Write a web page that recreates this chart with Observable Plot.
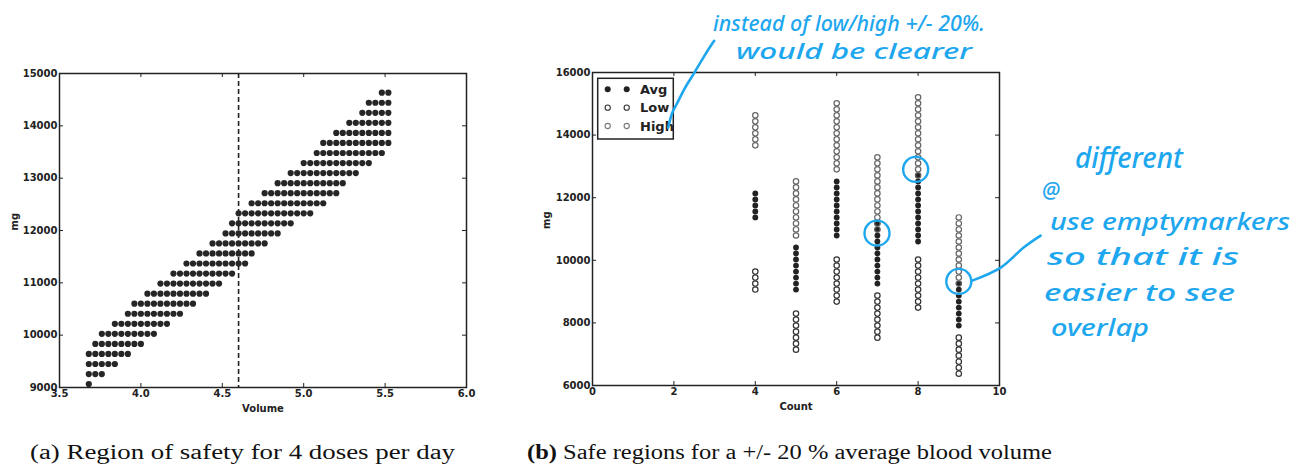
<!DOCTYPE html>
<html><head><meta charset="utf-8">
<script src="https://cdn.jsdelivr.net/npm/d3@7"></script>
<script src="https://cdn.jsdelivr.net/npm/@observablehq/plot@0.6"></script>
<style>
html,body{margin:0;padding:0;background:#fff;width:1303px;height:466px;overflow:hidden;}
#root{position:relative;width:1303px;height:466px;}
#left{position:absolute;left:0;top:0;z-index:2;}
#right{position:absolute;left:540px;top:0;z-index:2;}
#legend{position:absolute;left:0;top:0;z-index:1;}
#notes{position:absolute;left:0;top:0;z-index:3;pointer-events:none;}
</style></head>
<body><div id="root">
<svg id="legend" width="1303" height="466"></svg>
<div id="left"></div>
<div id="right"></div>
<svg id="notes" width="1303" height="466"></svg>
</div>
<script>
// ---------- Panel (a): region of safety, 4 doses per day ----------
const volumeGrid = [3.68,3.72,3.76,3.80,3.84,3.88,3.92,3.96,4.00,4.04,4.08,4.12,4.16,4.20,4.24,4.28,4.32,4.36,4.40,4.44,4.48,4.52,4.56,4.60,4.64,4.68,4.72,4.76,4.80,4.84,4.88,4.92,4.96,5.00,5.04,5.08,5.12,5.16,5.20,5.24,5.28,5.32,5.36,5.40,5.44,5.48,5.52];
const rowMg = [9065,9257,9449,9641,9833,10025,10217,10409,10601,10793,10985,11177,11369,11561,11753,11945,12137,12329,12521,12713,12905,13097,13289,13481,13673,13865,14057,14249,14441,14633];
const rowVolMin = [3.68,3.68,3.68,3.68,3.72,3.76,3.84,3.92,3.96,4.04,4.12,4.20,4.28,4.36,4.44,4.52,4.56,4.60,4.68,4.76,4.84,4.92,5.00,5.08,5.12,5.20,5.28,5.36,5.40,5.48];
const rowVolMax = [3.68,3.76,3.84,3.92,4.00,4.08,4.16,4.24,4.32,4.40,4.48,4.56,4.64,4.68,4.76,4.84,4.92,5.04,5.12,5.20,5.24,5.32,5.40,5.48,5.52,5.52,5.52,5.52,5.52,5.52];
const thresholdVolume = 4.6;
const xTicksA = [3.5,4.0,4.5,5.0,5.5,6.0];
const yTicksA = [9000,10000,11000,12000,13000,14000,15000];

// ---------- Panel (b): safe regions, +/- 20% blood volume ----------
const mgGrid = [6377,6569,6761,6953,7145,7337,7529,7721,7913,8105,8297,8489,8681,8873,9065,9257,9449,9641,9833,10025,10217,10409,10601,10793,10985,11177,11369,11561,11753,11945,12137,12329,12521,12713,12905,13097,13289,13481,13673,13865,14057,14249,14441,14633,14825,15017,15209];
const counts  = [4, 5, 6, 7, 8, 9];
const avgMin  = [11369, 9065, 10793, 9257, 10601, 7913];
const avgMax  = [12137, 10409, 12521, 11177, 12713, 9257];
const lowMin  = [9065, 7145, 8681, 7529, 8489, 6377];
const lowMax  = [9641, 8297, 10025, 8873, 10025, 7529];
const highMin = [13673, 10793, 12905, 10985, 12713, 9257];
const highMax = [14633, 12521, 15017, 13289, 15209, 11369];
const xTicksB = [0,2,4,6,8,10];
const yTicksB = [6000,8000,10000,12000,14000,16000];
const seriesNames = ["Avg","Low","High"];

// hand-drawn review marks (in panel (b) data units)
const overlapCount = [6.99, 7.94, 9.0];
const overlapMg = [10867, 12904, 9326];
const noteLinkA = [[1.86,14235],[1.96,14714],[2.06,14969],[2.26,15480],[2.50,15990],[2.72,16469],[2.89,16820],[2.99,17012]];
const noteLinkB = [[9.33,9351],[10.04,9776],[10.60,10414],[11.01,10788]];
const notes = [
  {text:"instead of low/high +/- 20%.", x:713, y:31, len:272, size:22},
  {text:"would be clearer", x:736, y:59, len:236, size:22},
  {text:"different", x:1075, y:168, len:108, size:28},
  {text:"@", x:1042, y:198, len:18, size:22},
  {text:"use emptymarkers", x:1050, y:230, len:240, size:23},
  {text:"so that it is", x:1047, y:265, len:192, size:23},
  {text:"easier to see", x:1044, y:301, len:191, size:23},
  {text:"overlap", x:1051, y:336, len:98, size:23}
];
const captions = [
  {text:"(a) Region of safety for 4 doses per day", x:30, y:459, len:425, bold:false},
  {text:"(b) Safe regions for a +/- 20 % average blood volume", x:527, y:459, len:525, bold:true}
];

// ---------- build point tables ----------
const leftPoints = [];
rowMg.forEach((mg, i) => {
  const lo = Math.round(rowVolMin[i]*100), hi = Math.round(rowVolMax[i]*100);
  volumeGrid.forEach(v => { const k = Math.round(v*100); if (k >= lo && k <= hi) leftPoints.push({volume: v, mg}); });
});
function groupPoints(mins, maxs) {
  const out = [];
  counts.forEach((c, i) => mgGrid.forEach(m => { if (m >= mins[i] && m <= maxs[i]) out.push({count: c, mg: m}); }));
  return out;
}
const avgPts = groupPoints(avgMin, avgMax);
const lowPts = groupPoints(lowMin, lowMax);
const highPts = groupPoints(highMin, highMax);
const circles = overlapCount.map((c, i) => ({count: c, mg: overlapMg[i]}));
const links = [
  ...noteLinkA.map(([c, m]) => ({id: "a", count: c, mg: m})),
  ...noteLinkB.map(([c, m]) => ({id: "b", count: c, mg: m}))
];

const INK = "#222";
const BLUE = "#1ea7ee";
const baseStyle = {fontFamily: "'DejaVu Sans', sans-serif", fontSize: "10px", fontWeight: "bold", color: INK, background: "transparent", overflow: "visible"};

function frameTicks(xt, yt, fw, fh) {
  return [
    Plot.tickX(xt, {x: d => d, insetTop: fh - 4, stroke: INK}),
    Plot.tickX(xt, {x: d => d, insetBottom: fh - 4, stroke: INK}),
    Plot.tickY(yt, {y: d => d, insetRight: fw - 4, stroke: INK}),
    Plot.tickY(yt, {y: d => d, insetLeft: fw - 4, stroke: INK}),
    Plot.frame({stroke: INK, strokeWidth: 1.5})
  ];
}

// Panel (a)
const leftPlot = Plot.plot({
  width: 480, height: 420,
  marginLeft: 59, marginRight: 14, marginTop: 73, marginBottom: 33,
  x: {domain: [3.5, 6.0], axis: null},
  y: {domain: [9000, 15000], axis: null},
  style: baseStyle,
  marks: [
    Plot.ruleX([thresholdVolume], {stroke: INK, strokeWidth: 1.6, strokeDasharray: "5,3"}),
    Plot.dot(leftPoints, {x: "volume", y: "mg", r: 3.1, fill: "#262626", stroke: "none"}),
    ...frameTicks(xTicksA, yTicksA, 407, 314),
    Plot.text(xTicksA, {x: d => d, frameAnchor: "bottom", dy: 2, lineAnchor: "top", text: d => d.toFixed(1), fill: INK}),
    Plot.text(yTicksA, {y: d => d, frameAnchor: "left", dx: -2, textAnchor: "end", text: d => String(d), fill: INK}),
    Plot.text(["Volume"], {frameAnchor: "bottom", dy: 17, lineAnchor: "top", text: d => d, fill: INK}),
    Plot.text(["mg"], {frameAnchor: "left", dx: -45, rotate: -90, text: d => d, fill: INK})
  ]
});
document.getElementById("left").appendChild(leftPlot);

// Panel (b)
const rightPlot = Plot.plot({
  width: 763, height: 420,
  marginLeft: 52, marginRight: 304, marginTop: 72, marginBottom: 35,
  x: {domain: [0, 10], axis: null},
  y: {domain: [6000, 16000], axis: null},
  style: baseStyle,
  marks: [
    Plot.dot(avgPts, {x: "count", y: "mg", r: 2.9, fill: "#222", stroke: "none"}),
    Plot.dot(lowPts, {x: "count", y: "mg", r: 2.7, fill: "none", stroke: "#333", strokeWidth: 1.2}),
    Plot.dot(highPts, {x: "count", y: "mg", r: 2.7, fill: "none", stroke: "#666", strokeWidth: 1.2}),
    ...frameTicks(xTicksB, yTicksB, 407, 313),
    Plot.text(xTicksB, {x: d => d, frameAnchor: "bottom", dy: 2, lineAnchor: "top", text: d => String(d), fill: INK}),
    Plot.text(yTicksB, {y: d => d, frameAnchor: "left", dx: -2, textAnchor: "end", text: d => String(d), fill: INK}),
    Plot.text(["Count"], {frameAnchor: "bottom", dy: 17, lineAnchor: "top", text: d => d, fill: INK}),
    Plot.text(["mg"], {frameAnchor: "left", dx: -46, rotate: -90, text: d => d, fill: INK}),
    Plot.dot(circles, {x: "count", y: "mg", r: 12.5, fill: "none", stroke: BLUE, strokeWidth: 2.4}),
    Plot.line(links, {x: "count", y: "mg", z: "id", curve: "catmull-rom", stroke: BLUE, strokeWidth: 2.6, strokeLinecap: "round"})
  ]
});
document.getElementById("right").appendChild(rightPlot);

// Legend (matplotlib style, two markers per entry)
const legend = d3.select("#legend");
const lg = legend.append("g");
lg.append("rect").attr("x", 597.7).attr("y", 78.3).attr("width", 75.6).attr("height", 60.7)
  .attr("fill", "#fff").attr("stroke", INK).attr("stroke-width", 1.5);
const legendStyle = [
  {fill: "#222", stroke: "none", r: 3},
  {fill: "none", stroke: "#333", r: 2.6},
  {fill: "none", stroke: "#7a7a7a", r: 2.6}
];
seriesNames.forEach((name, i) => {
  const cy = 89.3 + i * 18.35;
  [607.7, 626.7].forEach(cx => lg.append("circle").attr("cx", cx).attr("cy", cy).attr("r", legendStyle[i].r)
    .attr("fill", legendStyle[i].fill).attr("stroke", legendStyle[i].stroke).attr("stroke-width", 1.1));
  lg.append("text").attr("x", 640).attr("y", cy + 4.8).text(name)
    .attr("font-family", "'DejaVu Sans', sans-serif").attr("font-weight", "bold").attr("font-size", 13).attr("fill", INK);
});

// Hand-written notes and captions
const ns = d3.select("#notes");
notes.forEach(n => {
  ns.append("text").attr("x", n.x).attr("y", n.y).attr("textLength", n.len).attr("lengthAdjust", "spacingAndGlyphs")
    .attr("font-family", "'Noto Sans', sans-serif").attr("font-style", "italic").attr("font-weight", 500)
    .attr("font-size", n.size).attr("fill", BLUE).text(n.text);
});
captions.forEach(c => {
  const t = ns.append("text").attr("x", c.x).attr("y", c.y).attr("textLength", c.len).attr("lengthAdjust", "spacingAndGlyphs")
    .attr("font-family", "'Liberation Serif', serif").attr("font-size", 20).attr("fill", "#111");
  const head = c.text.slice(0, 3), rest = c.text.slice(3);
  t.append("tspan").attr("font-weight", c.bold ? "bold" : "normal").text(head);
  t.append("tspan").text(rest);
});
</script>
</body></html>
